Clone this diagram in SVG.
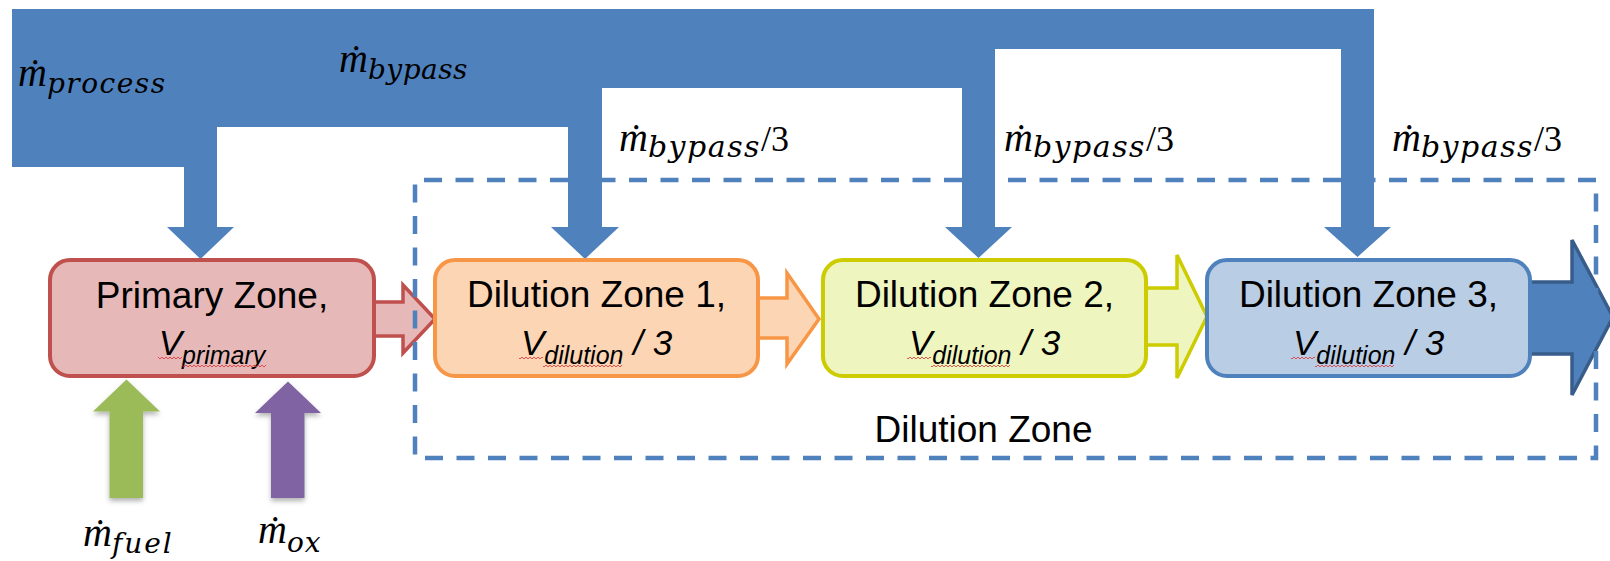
<svg xmlns="http://www.w3.org/2000/svg" width="1610" height="561" viewBox="0 0 1610 561">
<style>
.lbl{font-family:"Liberation Sans",Arial,sans-serif;font-size:37px;fill:#000;text-anchor:middle}
.vl{font-family:"Liberation Sans",Arial,sans-serif;font-size:35px;font-style:italic;fill:#000;text-anchor:middle}
.vs{font-size:25px}
.m{font-family:"Liberation Serif","DejaVu Serif",serif;font-style:italic;font-size:40px;fill:#000}
.s{font-family:"DejaVu Serif","Liberation Serif",serif;font-size:28px;letter-spacing:0.5px}
.s2{font-family:"DejaVu Serif","Liberation Serif",serif;font-size:30px;letter-spacing:1.5px}
.up{font-family:"Liberation Serif",serif;font-style:normal;font-size:36px;letter-spacing:0}
.box{stroke-width:4}
.blk{stroke-width:3.5;stroke-linejoin:miter}
</style>
<defs>
<filter id="sh" x="-30%" y="-20%" width="160%" height="140%">
<feDropShadow dx="0" dy="3" stdDeviation="2.5" flood-color="#000" flood-opacity="0.3"/>
</filter>
<pattern id="squig" width="4" height="4" patternUnits="userSpaceOnUse">
<path d="M0,3 L2,1 L4,3" fill="none" stroke="#E03030" stroke-width="0.8"/>
</pattern>
</defs>

<g id="connectors">
<path id="pipe" fill="#4F81BD" d="M12,9 H1374 V227 H1391 L1357.5,257 L1324,227 H1341 V49 H995 V227 H1012 L978.5,258 L945,227 H962 V88 H602 V227 H619 L585,259 L551,227 H568 V127 H217 V227 H234 L200.5,259 L167,227 H184 V167 H12 Z"/>
<polygon class="blk" fill="#E6B9B8" stroke="#C0504D" points="374,302 403,302 403,285 435,319 403,353 403,336 374,336"/>
<polygon class="blk" fill="#FCD5B5" stroke="#F79646" points="758,298 787,298 787,273 819,319 787,364 787,338 758,338"/>
<polygon class="blk" fill="#EEF5BE" stroke="#CCCC00" points="1146,288 1177,288 1177,255 1207,316.5 1177,378 1177,345 1146,345"/>
<polygon class="blk" fill="#4F81BD" stroke="#385D8A" points="1530,282 1572,282 1572,240 1613,317 1572,395 1572,354 1530,354"/>
<polygon fill="#9BBB59" filter="url(#sh)" points="109.5,498 109.5,411.5 93,411.5 126.5,379.5 160,411.5 143,411.5 143,498"/>
<polygon fill="#8064A2" filter="url(#sh)" points="271,498 271,413 255,413 288,381.5 321,413 304.5,413 304.5,498"/>
</g>

<g id="dilution-zone">
<path fill="none" stroke="#4F81BD" stroke-width="4.5" stroke-dasharray="18 13.5" d="M568,180 H415 V458 H1596 V180 H1374 M1341,180 H995 M962,180 H602"/>
<text class="lbl" x="983.5" y="442">Dilution Zone</text>
</g>

<g id="primary-zone">
<rect class="box" x="50" y="260" width="324" height="116" rx="20" fill="#E6B9B8" stroke="#C0504D"/>
<text class="lbl" x="212" y="308">Primary Zone,</text>
<text class="vl" x="212" y="355">V<tspan class="vs" dy="9">primary</tspan></text>
<rect x="158" y="356" width="24" height="4" fill="url(#squig)"/>
<rect x="182" y="364" width="84" height="4" fill="url(#squig)"/>
</g>

<g id="dilution-zone-1">
<rect class="box" x="435" y="260" width="323" height="116" rx="20" fill="#FCD5B5" stroke="#F79646"/>
<text class="lbl" x="596.5" y="307">Dilution Zone 1,</text>
<text class="vl" x="596.5" y="355">V<tspan class="vs" dy="9">dilution</tspan><tspan dy="-9"> / 3</tspan></text>
<rect x="519" y="356" width="24" height="4" fill="url(#squig)"/>
<rect x="543" y="364" width="79" height="4" fill="url(#squig)"/>
</g>

<g id="dilution-zone-2">
<rect class="box" x="823" y="260" width="323" height="116" rx="20" fill="#EEF5BE" stroke="#CCCC00"/>
<text class="lbl" x="984.5" y="307">Dilution Zone 2,</text>
<text class="vl" x="984.5" y="355">V<tspan class="vs" dy="9">dilution</tspan><tspan dy="-9"> / 3</tspan></text>
<rect x="907" y="356" width="24" height="4" fill="url(#squig)"/>
<rect x="931" y="364" width="79" height="4" fill="url(#squig)"/>
</g>

<g id="dilution-zone-3">
<rect class="box" x="1207" y="260" width="323" height="116" rx="20" fill="#B9CDE5" stroke="#4F81BD"/>
<text class="lbl" x="1368.5" y="307">Dilution Zone 3,</text>
<text class="vl" x="1368.5" y="355">V<tspan class="vs" dy="9">dilution</tspan><tspan dy="-9"> / 3</tspan></text>
<rect x="1291" y="356" width="24" height="4" fill="url(#squig)"/>
<rect x="1315" y="364" width="79" height="4" fill="url(#squig)"/>
</g>

<g id="flow-labels">
<text class="m" x="18" y="86">ṁ<tspan class="s" dy="7" style="letter-spacing:1.5px">process</tspan></text>
<text class="m" x="339" y="72">ṁ<tspan class="s" dy="7">bypass</tspan></text>
<text class="m" x="619" y="151">ṁ<tspan class="s2" dy="6">bypass</tspan><tspan class="up" dy="-6">/3</tspan></text>
<text class="m" x="1004" y="151">ṁ<tspan class="s2" dy="6">bypass</tspan><tspan class="up" dy="-6">/3</tspan></text>
<text class="m" x="1392" y="151">ṁ<tspan class="s2" dy="6">bypass</tspan><tspan class="up" dy="-6">/3</tspan></text>
<text class="m" x="83" y="546">ṁ<tspan class="s" dy="7" style="letter-spacing:2px">fuel</tspan></text>
<text class="m" x="258" y="543">ṁ<tspan class="s" dy="9" style="letter-spacing:1px">ox</tspan></text>
</g>
</svg>
